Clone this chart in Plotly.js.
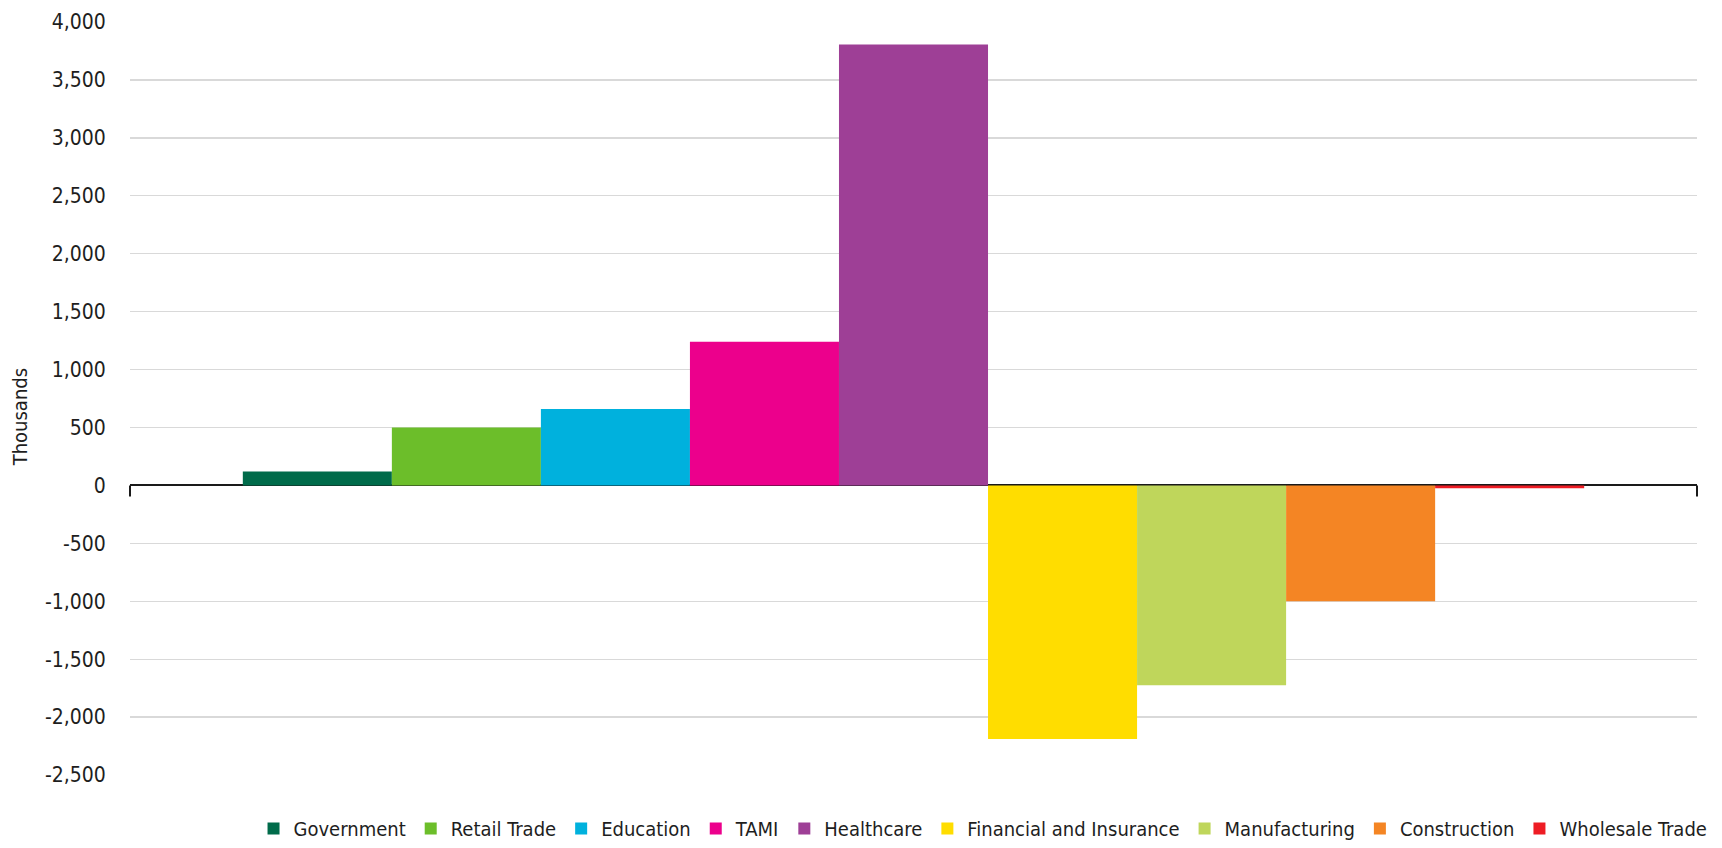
<!DOCTYPE html>
<html>
<head>
<meta charset="utf-8">
<script src="https://cdn.plot.ly/plotly-3.0.1.min.js"></script>
<style>
  html, body { margin: 0; padding: 0; background: #ffffff; }
  #chart { width: 1722px; height: 848px; font-stretch: condensed; }
</style>
</head>
<body>
<div id="chart"></div>
<script>
// ---- Data (in thousands) ----
const sectors = ["Government", "Retail Trade", "Education", "TAMI", "Healthcare",
                 "Financial and Insurance", "Manufacturing", "Construction", "Wholesale Trade"];
const changes = [120, 500, 660, 1240, 3805, -2190, -1725, -1000, -25];
const colors  = ["#006B4A", "#6CBE2A", "#00B1DD", "#EC008C", "#9E3F96",
                 "#FFDD00", "#BFD65B", "#F48524", "#EE1C24"];
const tickValues = [-2500, -2000, -1500, -1000, -500, 0, 500, 1000, 1500, 2000, 2500, 3000, 3500, 4000];
const tickLabels = ["-2,500", "-2,000", "-1,500", "-1,000", "-500", "0", "500", "1,000",
                    "1,500", "2,000", "2,500", "3,000", "3,500", "4,000"];
const yTitle = "Thousands";

const FONT = "'DejaVu Sans Condensed', 'Liberation Sans Narrow', sans-serif";

const traces = sectors.map((name, i) => ({
  type: "bar",
  name: name,
  x: ["All"],
  y: [changes[i]],
  marker: { color: colors[i], line: { width: 0 } },
  hoverinfo: "name+y"
}));

const layout = {
  width: 1722,
  height: 848,
  margin: { l: 130, r: 25, t: 22, b: 73 },
  paper_bgcolor: "#ffffff",
  plot_bgcolor: "#ffffff",
  font: { family: FONT, size: 20, color: "#1e1e1e", stretch: "condensed" },
  barmode: "group",
  bargap: 0.144,
  bargroupgap: 0,
  showlegend: true,
  legend: {
    orientation: "h",
    xref: "container", yref: "container",
    x: 0.9945, xanchor: "right",
    y: -0.012, yanchor: "bottom",
    font: { family: FONT, size: 20, color: "#1e1e1e", stretch: "condensed" },
    traceorder: "normal",
    itemclick: false,
    itemdoubleclick: false
  },
  xaxis: {
    type: "category",
    showticklabels: false,
    showgrid: false,
    zeroline: false,
    showline: false,
    ticks: "",
    fixedrange: true
  },
  yaxis: {
    range: [-2500, 4000],
    tickmode: "array",
    tickvals: tickValues,
    ticktext: tickLabels,
    showgrid: true,
    gridcolor: "#D9D9D9",
    gridwidth: 1.3,
    zeroline: true,
    zerolinecolor: "#1a1a1a",
    zerolinewidth: 2,
    showline: false,
    ticks: "outside",
    ticklen: 19,
    tickcolor: "rgba(0,0,0,0)",
    tickfont: { family: FONT, size: 21, color: "#1e1e1e", stretch: "condensed" },
    fixedrange: true
  },
  shapes: [
    { type: "line", xref: "paper", yref: "y", ysizemode: "pixel", yanchor: 0,
      x0: 0, x1: 0, y0: 0, y1: -11, line: { color: "#1a1a1a", width: 2 } },
    { type: "line", xref: "paper", yref: "y", ysizemode: "pixel", yanchor: 0,
      x0: 1, x1: 1, y0: 0, y1: -11, line: { color: "#1a1a1a", width: 2 } }
  ],
  annotations: [
    { text: yTitle, xref: "paper", yref: "paper", x: 0, xanchor: "center",
      xshift: -110, y: 0.475, yanchor: "middle", textangle: -90, showarrow: false,
      font: { family: FONT, size: 20, color: "#1e1e1e", stretch: "condensed" } }
  ]
};

Plotly.newPlot("chart", traces, layout, { displayModeBar: false, staticPlot: true });
</script>
</body>
</html>
